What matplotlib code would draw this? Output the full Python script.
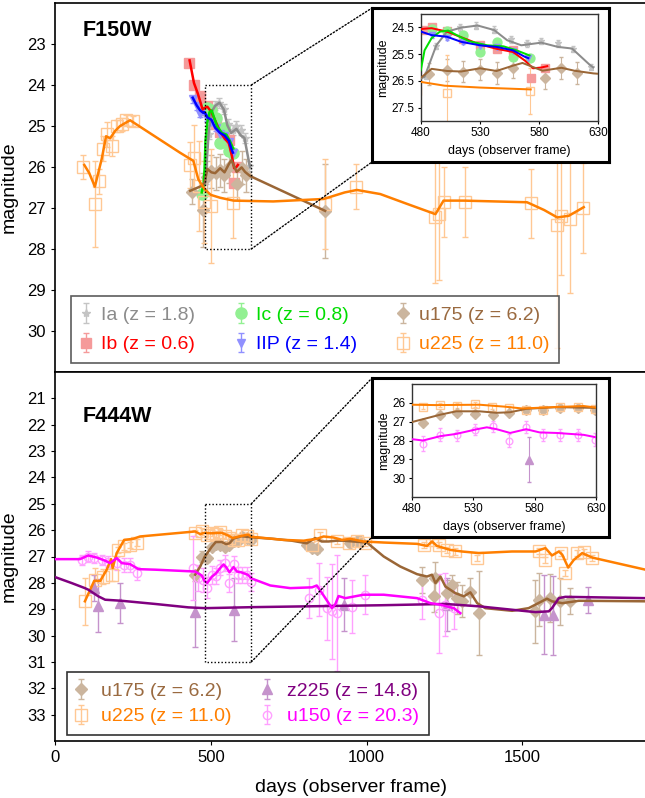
import matplotlib
matplotlib.use("Agg")
import matplotlib.pyplot as plt
from matplotlib.patches import Rectangle, ConnectionPatch

plt.rcParams['font.family'] = ['Liberation Sans', 'DejaVu Sans']

# ---------------- F150W (top panel) ----------------
ia_line_x = [476, 483, 493, 502, 514, 528, 542, 553, 565, 582, 596, 608, 623, 626]
ia_line_y = [26.5, 26.35, 25.17, 24.66, 24.51, 24.43, 24.6, 24.98, 25.17, 25.07, 25.23, 25.29, 25.9, 26.0]
ia_x = [484, 493, 502, 513, 527, 542, 556, 570, 582, 596, 609, 624]
ia_y = [26.3, 25.2, 24.7, 24.5, 24.43, 24.58, 24.95, 25.1, 25.0, 25.1, 25.3, 25.98]
ia_err = [0.12] * 12

ib_line_x = [432, 446, 458, 474, 480, 489, 502, 516, 530, 544, 558, 568, 575, 582, 587]
ib_line_y = [23.4, 23.95, 24.2, 24.6, 24.56, 24.53, 24.66, 24.9, 25.14, 25.3, 25.42, 25.74, 26.03, 26.0, 25.95]
ib_x = [431, 447, 464, 482, 489, 502, 516, 530, 544, 558, 573, 585]
ib_y = [23.46, 24.01, 24.27, 24.6, 24.5, 24.65, 24.95, 25.15, 25.3, 25.35, 26.4, 26.0]
ib_err = [0.08] * 12

ic_line_x = [471, 477, 480, 483, 489, 496, 503, 512, 521, 536, 550, 561, 572]
ic_line_y = [26.62, 26.4, 26.06, 25.36, 24.9, 24.66, 24.62, 24.83, 25.02, 25.17, 25.21, 25.36, 25.55]
ic_x = [471, 489, 502, 516, 530, 544, 558, 572]
ic_y = [26.65, 24.55, 24.62, 24.8, 25.42, 25.05, 25.6, 25.65]
ic_err = [0.1] * 8

iip_line_x = [442, 455, 466, 476, 480, 489, 502, 514, 530, 544, 558, 568, 571]
iip_line_y = [24.31, 24.5, 24.62, 24.68, 24.66, 24.79, 24.85, 25.04, 25.17, 25.23, 25.36, 25.6, 25.65]
iip_x = [442, 455, 466, 489, 502, 516, 530, 544, 558, 571]
iip_y = [24.35, 24.52, 24.7, 24.8, 24.9, 25.05, 25.2, 25.25, 25.4, 25.65]
iip_err = [0.08] * 10

u175a_line_x = [434, 471, 480, 489, 502, 514, 530, 544, 558, 566, 583, 599, 610, 626, 867]
u175a_line_y = [26.58, 26.46, 26.38, 26.05, 26.13, 26.15, 26.03, 26.13, 25.93, 25.83, 26.12, 26.01, 26.12, 26.22, 27.07]
u175a_x = [439, 475, 487, 502, 516, 530, 544, 558, 585, 599, 612, 867]
u175a_y = [26.6, 27.05, 26.25, 26.1, 26.15, 26.08, 26.2, 26.0, 26.41, 26.02, 26.2, 27.08]
u175a_err = [0.3, 0.9, 0.4, 0.4, 0.4, 0.4, 0.4, 0.4, 0.4, 0.4, 0.4, 1.15]

u225a_line_x = [94, 110, 128, 150, 164, 177, 193, 209, 241, 320, 401, 444, 460, 480, 500, 530,
                573, 700, 862, 930, 969, 1044, 1130, 1221, 1247, 1312, 1515, 1570, 1612, 1649, 1697]
u225a_line_y = [25.95, 26.15, 26.48, 25.8, 25.25, 25.3, 25.12, 25.0, 24.86, 25.25, 25.65, 25.85, 26.3,
                26.54, 26.68, 26.75, 26.82, 26.84, 26.78, 26.62, 26.56, 26.66, 26.9, 27.15, 26.82,
                26.82, 26.86, 27.05, 27.23, 27.19, 26.98]
u225a_x = [91, 128, 141, 155, 168, 182, 198, 214, 228, 250, 434, 447, 462, 477, 502, 572, 867, 967,
           1221, 1234, 1247, 1317, 1528, 1612, 1625, 1654, 1695]
u225a_y = [26.0, 26.9, 26.35, 25.55, 25.2, 25.49, 25.0, 24.96, 24.85, 24.87, 25.95, 25.77, 26.46,
           26.86, 26.95, 26.87, 26.9, 26.48, 27.23, 27.15, 26.85, 26.86, 26.89, 27.41, 27.19, 27.27, 27.0]
u225a_err = [0.3, 1.05, 0.3, 0.3, 0.3, 0.25, 0.15, 0.15, 0.12, 0.12, 0.55, 0.8, 1.1, 1.0, 1.4, 0.85,
             1.1, 0.55, 1.6, 1.6, 0.85, 0.85, 0.85, 3.0, 1.45, 1.8, 1.1]

# ---------------- F444W (bottom panel) ----------------
u175b_line_x = [450, 466, 480, 503, 516, 535, 549, 560, 573, 598, 630, 700, 760, 808, 835, 856, 878,
                904, 926, 958, 1001, 1055, 1108, 1162, 1194, 1210, 1221, 1237, 1253, 1285, 1312, 1333,
                1355, 1381, 1467, 1520, 1579, 1595, 1628, 1681, 1895]
u175b_line_y = [27.69, 27.38, 27.02, 26.63, 26.45, 26.45, 26.53, 26.5, 26.32, 26.23, 26.27, 26.33, 26.4,
                26.5, 26.3, 26.43, 26.43, 26.4, 26.4, 26.43, 26.47, 27.0, 27.38, 27.67, 27.76, 27.69,
                28.01, 27.76, 28.14, 28.39, 28.51, 28.36, 28.77, 28.96, 29.06, 28.96, 28.6, 28.7,
                28.77, 28.68, 28.7]
u175b_x = [450, 471, 489, 503, 517, 531, 546, 559, 573, 587, 601, 615, 629, 808, 824, 840, 948, 969,
           980, 1178, 1215, 1221, 1258, 1274, 1290, 1306, 1333, 1360, 1542, 1553, 1590, 1622, 1654]
u175b_y = [27.72, 27.0, 27.07, 26.63, 26.52, 26.57, 26.63, 26.55, 26.4, 26.4, 26.27, 26.28, 26.37,
           26.56, 26.66, 26.71, 26.5, 26.43, 26.43, 27.88, 28.51, 27.82, 28.39, 28.1, 28.58, 28.7,
           28.33, 29.15, 29.08, 28.64, 28.58, 28.7, 28.7]
u175b_err = [0.2, 0.2, 0.12, 0.1, 0.1, 0.1, 0.1, 0.1, 0.1, 0.1, 0.1, 0.1, 0.1, 0.15, 0.15, 0.15, 0.15,
             0.15, 0.15, 0.5, 0.6, 0.6, 0.5, 0.4, 0.6, 0.6, 0.5, 1.6, 1.2, 1.0, 0.9, 0.9, 0.5]

u225b_line_x = [96, 126, 145, 166, 180, 185, 198, 222, 251, 273, 450, 466, 480, 500, 535, 555, 570,
                598, 620, 630, 733, 798, 840, 862, 894, 921, 948, 990, 1055, 1162, 1194, 1210, 1226,
                1269, 1306, 1360, 1467, 1542, 1574, 1595, 1617, 1628, 1647, 1665, 1692, 1724, 1895]
u225b_line_y = [28.7, 27.92, 27.93, 27.5, 27.1, 27.44, 26.87, 26.37, 26.33, 26.24, 26.05, 26.15, 26.1,
                26.12, 26.1, 26.2, 26.3, 26.22, 26.17, 26.25, 26.37, 26.4, 26.33, 26.24, 26.28, 26.37,
                26.33, 26.43, 26.47, 26.52, 26.6, 26.43, 26.6, 26.75, 26.81, 26.87, 26.81, 26.81,
                26.68, 26.96, 26.81, 26.93, 27.42, 27.13, 26.87, 27.04, 27.5]
u225b_x = [96, 128, 153, 182, 203, 220, 241, 262, 450, 471, 489, 503, 517, 531, 545, 559, 573, 587,
           601, 615, 629, 824, 851, 905, 942, 969, 996, 1183, 1210, 1231, 1258, 1285, 1355, 1553,
           1574, 1625, 1638, 1676, 1697, 1724]
u225b_y = [28.7, 27.88, 27.76, 27.69, 26.75, 26.62, 26.56, 26.47, 26.12, 26.05, 26.2, 26.12, 26.15,
           26.08, 26.22, 26.3, 26.37, 26.37, 26.2, 26.24, 26.33, 26.56, 26.2, 26.4, 26.5, 26.43, 26.5,
           26.56, 26.37, 26.56, 26.75, 26.81, 27.06, 26.79, 27.13, 26.87, 27.63, 26.87, 26.84, 27.06]
u225b_err = [0.9, 0.45, 0.3, 0.25] + [0.12] * 36

z225_line_x = [0, 54, 96, 107, 139, 161, 214, 321, 428, 482, 642, 1044, 1253, 1360, 1467, 1542,
               1585, 1595, 1617, 1638, 1895]
z225_line_y = [27.78, 28.01, 28.2, 28.26, 28.51, 28.64, 28.68, 28.8, 28.93, 28.96, 28.92, 28.85,
               28.8, 28.89, 29.02, 29.11, 29.08, 28.96, 28.58, 28.53, 28.58]
z225_x = [125, 137, 209, 448, 575, 926, 1258, 1569, 1598, 1711]
z225_y = [28.2, 28.86, 28.77, 29.1, 29.02, 28.83, 28.83, 29.21, 29.23, 28.64]
z225_err = [0.5, 1.0, 0.75, 1.35, 1.2, 1.0, 1.0, 1.5, 1.5, 0.5]

u150_line_x = [0, 80, 107, 134, 161, 177, 198, 214, 241, 268, 321, 450, 471, 480, 489, 503, 516,
               533, 541, 549, 560, 573, 584, 598, 620, 630, 691, 755, 825, 840, 857, 889, 900, 910,
               932, 990, 1055, 1162, 1205, 1237, 1280, 1301]
u150_line_y = [27.1, 27.1, 26.96, 27.04, 27.16, 27.25, 27.06, 27.25, 27.29, 27.48, 27.5, 27.57,
               27.72, 27.93, 28.0, 27.77, 27.65, 27.4, 27.3, 27.4, 27.6, 27.4, 27.57, 27.6, 27.7,
               27.83, 28.1, 28.2, 28.17, 28.1, 28.39, 28.96, 28.8, 28.5, 28.58, 28.45, 28.45, 28.58,
               28.77, 28.83, 28.96, 29.15]
u150_x = [86, 107, 126, 150, 171, 198, 220, 241, 262, 444, 460, 476, 489, 503, 517, 531, 546, 559,
          573, 587, 601, 615, 629, 814, 846, 873, 889, 905, 953, 996, 1178, 1231, 1253, 1280]
u150_y = [27.13, 27.0, 27.06, 27.13, 27.19, 27.25, 27.32, 27.32, 27.63, 27.44, 27.82, 27.88, 28.18,
          27.7, 27.73, 27.42, 27.25, 28.0, 27.28, 27.7, 27.7, 27.7, 27.96, 28.58, 28.26, 28.96,
          29.08, 29.15, 28.9, 28.45, 28.64, 29.15, 28.83, 28.96]
u150_err = [0.2, 0.2, 0.2, 0.2, 0.2, 0.25, 0.25, 0.25, 0.25, 1.2, 0.5, 0.45, 0.4, 0.35, 0.3, 0.3, 0.3,
            0.35, 0.3, 0.3, 0.3, 0.3, 0.35, 0.75, 1.0, 1.2, 1.8, 2.2, 1.0, 0.75, 0.75, 1.5, 1.2, 0.8]

zoom_x = (480, 630)
zoom_y_top = (24, 28)
zoom_y_bot = (25, 31)

# label, line x/y, points x/y/err, line colour, point colour, text colour, marker, hollow, size
top_series = [
    ("Ia (z = 1.8)", ia_line_x, ia_line_y, ia_x, ia_y, ia_err, "#8c8c8c", "#c4c4c4", "#8c8c8c", "*", False, 6),
    ("Ib (z = 0.6)", ib_line_x, ib_line_y, ib_x, ib_y, ib_err, "#ff0000", "#f59a9a", "#ff0000", "s", False, 7),
    ("Ic (z = 0.8)", ic_line_x, ic_line_y, ic_x, ic_y, ic_err, "#00e000", "#92f092", "#00dd00", "o", False, 8),
    ("IIP (z = 1.4)", iip_line_x, iip_line_y, iip_x, iip_y, iip_err, "#0000ff", "#9090ff", "#0000ff", "v", False, 6),
    ("u175 (z = 6.2)", u175a_line_x, u175a_line_y, u175a_x, u175a_y, u175a_err, "#9a6636", "#cbb59e", "#9a6a40", "D", False, 6),
    ("u225 (z = 11.0)", u225a_line_x, u225a_line_y, u225a_x, u225a_y, u225a_err, "#ff7f00", "#ffc894", "#ff7f00", "s", True, 8),
]
bot_series = [
    ("u175 (z = 6.2)", u175b_line_x, u175b_line_y, u175b_x, u175b_y, u175b_err, "#9a6636", "#cbb59e", "#9a6a40", "D", False, 6),
    ("u225 (z = 11.0)", u225b_line_x, u225b_line_y, u225b_x, u225b_y, u225b_err, "#ff7f00", "#ffc894", "#ff7f00", "s", True, 8),
    ("z225 (z = 14.8)", z225_line_x, z225_line_y, z225_x, z225_y, z225_err, "#800080", "#c593cc", "#800080", "^", False, 7),
    ("u150 (z = 20.3)", u150_line_x, u150_line_y, u150_x, u150_y, u150_err, "#ff00ff", "#ffa0ff", "#ff00ff", "o", True, 6),
]


def draw(ax, series, scale=1.0, skip_lines=(), line_xmax=None):
    handles = []
    for label, lx, ly, px, py, pe, lc, pc, tc, mk, hollow, ms in series:
        h = ax.errorbar(px, py, yerr=pe, fmt=mk, ms=ms * scale, color=pc, ecolor=pc,
                        mfc="none" if hollow else pc, mec=pc, elinewidth=1.0 * scale,
                        capsize=2 * scale, mew=1.0, zorder=2, label=label)
        handles.append(h)
    for label, lx, ly, px, py, pe, lc, pc, tc, mk, hollow, ms in series:
        if label in skip_lines:
            continue
        xs, ys = lx, ly
        if line_xmax and label in line_xmax:
            keep = [i for i, v in enumerate(lx) if v <= line_xmax[label]]
            xs = [lx[i] for i in keep]
            ys = [ly[i] for i in keep]
        ax.plot(xs, ys, color=lc, lw=1.8 * scale, zorder=3)
    return handles


fig = plt.figure(figsize=(6.45, 7.98), dpi=100)
W, H = 645.0, 798.0
ax1 = fig.add_axes([55 / W, 1 - 372 / H, 592 / W, 369 / H])
ax2 = fig.add_axes([55 / W, 1 - 741 / H, 592 / W, 369 / H])

h1 = draw(ax1, top_series)
h2 = draw(ax2, bot_series)

for ax in (ax1, ax2):
    ax.set_xlim(0, 1900)
    ax.set_xticks([0, 500, 1000, 1500])
    ax.tick_params(labelsize=12, length=3)
    ax.set_ylabel("magnitude", fontsize=14, labelpad=4)
    for sp in ax.spines.values():
        sp.set_linewidth(1.2)
ax1.set_ylim(31, 22)
ax1.set_yticks(range(23, 31))
ax1.tick_params(labelbottom=False)
ax2.set_ylim(34, 20)
ax2.set_yticks(range(21, 34))
ax2.set_xlabel("days (observer frame)", fontsize=14, labelpad=10)
ax1.yaxis.set_label_coords(-0.063, 0.5)
ax2.yaxis.set_label_coords(-0.063, 0.5)

ax1.text(0.046, 0.925, "F150W", transform=ax1.transAxes, fontsize=15.5, fontweight="bold", va="center")
ax2.text(0.046, 0.88, "F444W", transform=ax2.transAxes, fontsize=15.5, fontweight="bold", va="center")

leg1 = ax1.legend(handles=h1, ncol=3, loc="lower left", bbox_to_anchor=(0.027, 0.024), fontsize=14,
                  frameon=True, fancybox=False, edgecolor="#333333", handlelength=0.5,
                  handletextpad=0.55, columnspacing=2.1, borderpad=0.5, labelspacing=0.62,
                  borderaxespad=0)
leg1.get_frame().set_linewidth(1.2)
for t, s in zip(leg1.get_texts(), top_series):
    t.set_color(s[8])

leg2 = ax2.legend(handles=h2, ncol=2, loc="lower left", bbox_to_anchor=(0.02, 0.016), fontsize=14,
                  frameon=True, fancybox=False, edgecolor="black", handlelength=0.5,
                  handletextpad=0.75, columnspacing=1.6, borderpad=0.5, labelspacing=0.42,
                  borderaxespad=0)
leg2.get_frame().set_linewidth(1.2)
for t, s in zip(leg2.get_texts(), bot_series):
    t.set_color(s[8])

# zoom regions + insets
insets = [
    (ax1, zoom_y_top, [372 / W, 1 - 162 / H, 237 / W, 154 / H], [421 / W, 1 - 121 / H, 177 / W, 107 / H],
     top_series, [24.5, 25.5, 26.5, 27.5], (), {"u225 (z = 11.0)": 575}),
    (ax2, zoom_y_bot, [372 / W, 1 - 537 / H, 237 / W, 159 / H], [412 / W, 1 - 497 / H, 184 / W, 113 / H],
     bot_series, [26, 27, 28, 29, 30], ("z225 (z = 14.8)",), None),
]
for ax, zy, box_rect, in_rect, series, yt, skip, xmax in insets:
    ax.add_patch(Rectangle((zoom_x[0], zy[0]), zoom_x[1] - zoom_x[0], zy[1] - zy[0], fill=False,
                           ls=(0, (1, 1.5)), lw=1.0, color="black", zorder=4))
    box = fig.add_axes(box_rect)
    box.set_xticks([])
    box.set_yticks([])
    for sp in box.spines.values():
        sp.set_linewidth(2.2)
    for ya, yb in ((zy[0], 1), (zy[1], 0)):
        con = ConnectionPatch(xyA=(zoom_x[1], ya), coordsA=ax.transData, xyB=(0, yb),
                              coordsB=box.transAxes, ls=(0, (1, 1.5)), lw=1.0, color="black")
        fig.add_artist(con)
    ins = fig.add_axes(in_rect)
    draw(ins, series, scale=0.8, skip_lines=skip, line_xmax=xmax)
    ins.set_xlim(*zoom_x)
    ins.set_ylim(zy[1], zy[0])
    ins.set_xticks([480, 530, 580, 630])
    ins.set_yticks(yt)
    ins.tick_params(labelsize=8.5, length=2.5, pad=2)
    ins.set_xlabel("days (observer frame)", fontsize=9, labelpad=4)
    ins.set_ylabel("magnitude", fontsize=9, labelpad=2)
    for sp in ins.spines.values():
        sp.set_linewidth(1.0)
        sp.set_color("#333333")

fig.savefig("out.png", dpi=100)
